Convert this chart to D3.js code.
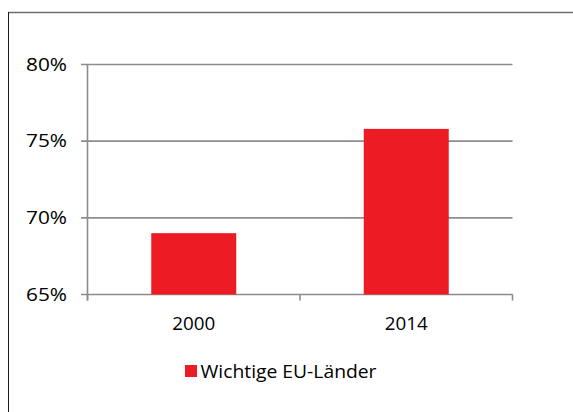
<!DOCTYPE html>
<html><head><meta charset="utf-8">
<script src="https://cdn.jsdelivr.net/npm/d3@7"></script>
<style>html,body{margin:0;padding:0;background:#fff;}svg{display:block;}</style>
</head><body>
<svg id="c" width="573" height="412"></svg>
<script>
const categories = ["2000", "2014"];
const values = [0.69, 0.758];
const yTicks = [0.65, 0.70, 0.75, 0.80];
const seriesName = "Wichtige EU-Länder";

const svg = d3.select("#c");
const font = "'Open Sans', 'Noto Sans', sans-serif";
const gridColor = "#8c8c8c";
const barColor = "#ED1C24";

// frame
svg.append("line").attr("x1", 8.5).attr("x2", 573).attr("y1", 12.5).attr("y2", 12.5)
  .attr("stroke", "#6e6e6e").attr("stroke-width", 1.5);
svg.append("line").attr("x1", 8.5).attr("x2", 8.5).attr("y1", 12).attr("y2", 412)
  .attr("stroke", "#1a1a1a").attr("stroke-width", 1);

const x = d3.scaleBand().domain(categories).range([87.5, 512.5]).paddingInner(0.6).paddingOuter(0.3);
const y = d3.scaleLinear().domain([0.65, 0.80]).range([294.5, 64.5]);

// gridlines
svg.append("g").selectAll("line").data(yTicks).join("line")
  .attr("x1", 81).attr("x2", 512.5)
  .attr("y1", d => y(d)).attr("y2", d => y(d))
  .attr("stroke", gridColor).attr("stroke-width", 1.6);

// bars
svg.append("g").selectAll("rect").data(categories).join("rect")
  .attr("x", d => x(d)).attr("width", x.bandwidth())
  .attr("y", (d, i) => y(values[i])).attr("height", (d, i) => y(0.65) - y(values[i]))
  .attr("fill", barColor);

// y axis line
svg.append("line").attr("x1", 87.5).attr("x2", 87.5).attr("y1", y(0.80)).attr("y2", y(0.65) + 6)
  .attr("stroke", gridColor).attr("stroke-width", 1.6);

// x ticks
const xStep = (512.5 - 87.5) / categories.length;
svg.append("g").selectAll("line").data(d3.range(categories.length + 1)).join("line")
  .attr("x1", i => 87.5 + i * xStep).attr("x2", i => 87.5 + i * xStep)
  .attr("y1", y(0.65)).attr("y2", y(0.65) + 6)
  .attr("stroke", gridColor).attr("stroke-width", 1.6);

// y labels
svg.append("g").selectAll("text").data(yTicks).join("text")
  .attr("x", 67).attr("y", d => y(d) + 6)
  .attr("text-anchor", "end").attr("font-family", font).attr("font-size", 17.5).attr("fill", "#000")
  .attr("textLength", 41).attr("lengthAdjust", "spacingAndGlyphs")
  .text(d => d3.format(".0%")(d));

// x labels
svg.append("g").selectAll("text").data(categories).join("text")
  .attr("x", d => x(d) + x.bandwidth() / 2).attr("y", 330)
  .attr("text-anchor", "middle").attr("font-family", font).attr("font-size", 17.5).attr("fill", "#000")
  .attr("textLength", 43).attr("lengthAdjust", "spacingAndGlyphs")
  .text(d => d);

// legend
svg.append("rect").attr("x", 185).attr("y", 365).attr("width", 12).attr("height", 12).attr("fill", barColor);
svg.append("text").attr("x", 200.5).attr("y", 377.5).attr("font-family", font).attr("font-size", 17.5)
  .attr("fill", "#000").attr("textLength", 176).attr("lengthAdjust", "spacingAndGlyphs").text(seriesName);
</script>
</body></html>
